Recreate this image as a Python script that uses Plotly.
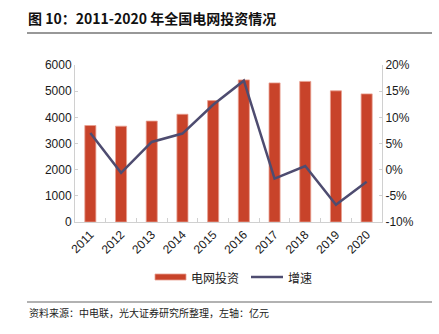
import plotly.graph_objects as go

years = ["2011", "2012", "2013", "2014", "2015", "2016", "2017", "2018", "2019", "2020"]
investment = [3687, 3661, 3856, 4118, 4640, 5431, 5315, 5373, 5012, 4896]
growth = [7.0, -0.6, 5.3, 6.9, 12.4, 17.0, -1.7, 0.7, -6.7, -2.3]

left_ticks = [0, 1000, 2000, 3000, 4000, 5000, 6000]
right_ticks = [-10, -5, 0, 5, 10, 15, 20]
right_labels = [f"{v}%" for v in right_ticks]

BAR = "#C8432A"
LINE = "#4E4C70"
FONT = "Noto Sans CJK SC"

W, H = 439, 334
L, R, T, B = 75, 57, 65, 112
pw, ph = W - L - R, H - T - B

def px(x):
    return (x - L) / pw

def py(y):
    return (H - B - y) / ph

fig = go.Figure()
fig.add_trace(go.Bar(x=years, y=investment, name="电网投资", marker=dict(color=BAR, line=dict(color="#E8A090", width=0.8)),
                     width=0.36, showlegend=False))
fig.add_trace(go.Scatter(x=years, y=growth, name="增速", mode="lines", yaxis="y2",
                         line=dict(color=LINE, width=2.5), showlegend=False))

TICKFONT = dict(size=12, color="#1a1a1a", family="Liberation Sans, " + FONT)

fig.update_layout(
    width=W, height=H,
    margin=dict(l=L, r=R, t=T, b=B),
    paper_bgcolor="white", plot_bgcolor="white",
    font=dict(family=FONT, size=11, color="#222"),
    xaxis=dict(type="category", tickangle=-45, showline=True, linecolor="#D0D0D0", linewidth=1,
               ticks="inside", tickson="boundaries", ticklen=4, tickcolor="#D0D0D0",
               tickfont=TICKFONT, showgrid=False),
    yaxis=dict(range=[0, 6000], tickvals=left_ticks, showline=True, linecolor="#D0D0D0", ticks="inside",
               ticklen=3, tickcolor="#D0D0D0", showgrid=False, zeroline=False, tickfont=TICKFONT),
    yaxis2=dict(range=[-10, 20], tickvals=right_ticks, ticktext=right_labels, overlaying="y", side="right",
                showline=True, linecolor="#D0D0D0", ticks="inside", ticklen=3, tickcolor="#D0D0D0",
                showgrid=False, zeroline=False, tickfont=TICKFONT),
    bargap=0.6,
)

shapes = [
    dict(type="line", xref="paper", yref="paper", x0=px(27), x1=px(432), y0=py(33), y1=py(33),
         line=dict(color="#333", width=1.2)),
    dict(type="line", xref="paper", yref="paper", x0=px(27), x1=px(432), y0=py(302), y1=py(302),
         line=dict(color="#999", width=1.5)),
    # legend icons
    dict(type="rect", xref="paper", yref="paper", x0=px(155), x1=px(186), y0=py(280), y1=py(274),
         fillcolor=BAR, line=dict(color="#E8A090", width=0.8)),
    dict(type="line", xref="paper", yref="paper", x0=px(251), x1=px(283), y0=py(277), y1=py(277),
         line=dict(color=LINE, width=2.5)),
]
annotations = [
    dict(text="<b>图 10：2011-2020 年全国电网投资情况</b>", xref="paper", yref="paper", x=px(26), y=py(18),
         xanchor="left", yanchor="middle", showarrow=False, font=dict(size=14, color="#111")),
    dict(text="资料来源：中电联，光大证券研究所整理，左轴：亿元", xref="paper", yref="paper", x=px(27), y=py(312),
         xanchor="left", yanchor="middle", showarrow=False, font=dict(size=10, color="#222")),
    dict(text="电网投资", xref="paper", yref="paper", x=px(189), y=py(277),
         xanchor="left", yanchor="middle", showarrow=False, font=dict(size=12, color="#222")),
    dict(text="增速", xref="paper", yref="paper", x=px(286), y=py(277),
         xanchor="left", yanchor="middle", showarrow=False, font=dict(size=12, color="#222")),
]
fig.update_layout(shapes=shapes, annotations=annotations)

fig.write_html("out.html")
